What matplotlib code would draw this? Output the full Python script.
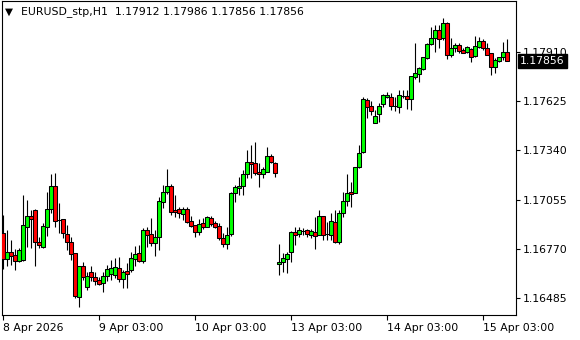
import numpy as np
import matplotlib
matplotlib.use("Agg")
import matplotlib.pyplot as plt
import matplotlib.transforms as mtransforms

# EURUSD H1 candles, 8 Apr 03:00 .. 15 Apr 09:00
opens = [
    1.16861, 1.16711, 1.16751, 1.16734, 1.16700, 1.16706, 1.16896, 1.16959, 1.16994, 1.16809,
    1.16780, 1.16896, 1.17000, 1.17133, 1.16936, 1.16942, 1.16855, 1.16809, 1.16745, 1.16491,
    1.16671, 1.16549, 1.16636, 1.16607, 1.16590, 1.16572, 1.16613, 1.16625, 1.16619, 1.16659,
    1.16596, 1.16642, 1.16648, 1.16711, 1.16745, 1.16700, 1.16878, 1.16855, 1.16803, 1.16838,
    1.17040, 1.17098, 1.17133, 1.16994, 1.17000, 1.16971, 1.17000, 1.16930, 1.16907, 1.16867,
    1.16919, 1.16896, 1.16948, 1.16919, 1.16902, 1.16832, 1.16797, 1.16855, 1.17092, 1.17122,
    1.17133, 1.17203, 1.17272, 1.17266, 1.17214, 1.17203, 1.17214, 1.17307, 1.17266, 1.16682,
    1.16694, 1.16711, 1.16751, 1.16867, 1.16855, 1.16873, 1.16878, 1.16849, 1.16867, 1.16849,
    1.16959, 1.16855, 1.16849, 1.16925, 1.16809, 1.16977, 1.17046, 1.17098, 1.17092, 1.17243,
    1.17330, 1.17632, 1.17596, 1.17498, 1.17551, 1.17609, 1.17648, 1.17648, 1.17596, 1.17590,
    1.17654, 1.17654, 1.17637, 1.17765, 1.17782, 1.17811, 1.17875, 1.17956, 1.17991, 1.18037,
    1.17991, 1.18078, 1.17892, 1.17933, 1.17950, 1.17921, 1.17910, 1.17927, 1.17887, 1.17939,
    1.17974, 1.17933, 1.17904, 1.17823, 1.17858, 1.17881, 1.17912,
]
highs = [
    1.16965, 1.16878, 1.16820, 1.16768, 1.16774, 1.17081, 1.17052, 1.16994, 1.17000, 1.16838,
    1.16919, 1.17098, 1.17203, 1.17208, 1.17035, 1.16942, 1.16907, 1.16838, 1.16745, 1.16671,
    1.16694, 1.16636, 1.16671, 1.16636, 1.16607, 1.16636, 1.16677, 1.16706, 1.16717, 1.16723,
    1.16648, 1.16688, 1.16751, 1.16786, 1.16792, 1.16890, 1.16896, 1.16948, 1.16878, 1.17069,
    1.17139, 1.17232, 1.17145, 1.17081, 1.17011, 1.17011, 1.17011, 1.16959, 1.16907, 1.16942,
    1.16948, 1.16959, 1.16959, 1.16930, 1.16919, 1.16861, 1.16896, 1.17098, 1.17139, 1.17185,
    1.17226, 1.17342, 1.17370, 1.17388, 1.17266, 1.17243, 1.17359, 1.17318, 1.17272, 1.16797,
    1.16745, 1.16751, 1.16873, 1.16896, 1.16896, 1.16890, 1.16884, 1.16884, 1.16954, 1.16994,
    1.16959, 1.16925, 1.16977, 1.16994, 1.16994, 1.17098, 1.17203, 1.17156, 1.17243, 1.17370,
    1.17648, 1.17643, 1.17626, 1.17573, 1.17615, 1.17666, 1.17677, 1.17672, 1.17648, 1.17689,
    1.17689, 1.17689, 1.17771, 1.17962, 1.17823, 1.17881, 1.17962, 1.18055, 1.18066, 1.18066,
    1.18107, 1.18084, 1.17991, 1.17962, 1.17962, 1.17933, 1.17945, 1.17933, 1.18003, 1.17997,
    1.17985, 1.17962, 1.17904, 1.17875, 1.17881, 1.17968, 1.17986,
]
lows = [
    1.16653, 1.16671, 1.16677, 1.16648, 1.16694, 1.16700, 1.16780, 1.16774, 1.16671, 1.16774,
    1.16774, 1.16844, 1.16977, 1.16896, 1.16861, 1.16832, 1.16763, 1.16706, 1.16486, 1.16433,
    1.16590, 1.16532, 1.16584, 1.16561, 1.16561, 1.16520, 1.16584, 1.16590, 1.16601, 1.16578,
    1.16543, 1.16543, 1.16636, 1.16671, 1.16694, 1.16688, 1.16780, 1.16786, 1.16729, 1.16763,
    1.17006, 1.17087, 1.16965, 1.16954, 1.16948, 1.16936, 1.16919, 1.16896, 1.16838, 1.16849,
    1.16884, 1.16896, 1.16902, 1.16890, 1.16820, 1.16780, 1.16768, 1.16844, 1.17040, 1.17081,
    1.17081, 1.17179, 1.17179, 1.17197, 1.17127, 1.17179, 1.17214, 1.17266, 1.17185, 1.16619,
    1.16636, 1.16630, 1.16694, 1.16792, 1.16838, 1.16849, 1.16838, 1.16832, 1.16768, 1.16849,
    1.16820, 1.16820, 1.16820, 1.16803, 1.16797, 1.16954, 1.17017, 1.17011, 1.17092, 1.17237,
    1.17324, 1.17527, 1.17545, 1.17498, 1.17504, 1.17590, 1.17643, 1.17573, 1.17568, 1.17557,
    1.17643, 1.17579, 1.17573, 1.17753, 1.17735, 1.17806, 1.17869, 1.17950, 1.17910, 1.17933,
    1.17979, 1.17869, 1.17881, 1.17910, 1.17904, 1.17904, 1.17904, 1.17852, 1.17881, 1.17933,
    1.17921, 1.17892, 1.17777, 1.17788, 1.17852, 1.17864, 1.17856,
]
closes = [
    1.16711, 1.16751, 1.16729, 1.16700, 1.16763, 1.16907, 1.16959, 1.16942, 1.16809, 1.16792,
    1.16902, 1.17000, 1.17133, 1.16930, 1.16936, 1.16861, 1.16809, 1.16740, 1.16497, 1.16671,
    1.16607, 1.16613, 1.16607, 1.16584, 1.16567, 1.16613, 1.16653, 1.16659, 1.16665, 1.16596,
    1.16636, 1.16625, 1.16717, 1.16740, 1.16700, 1.16878, 1.16849, 1.16803, 1.16838, 1.17046,
    1.17098, 1.17133, 1.16983, 1.16983, 1.16977, 1.17000, 1.16925, 1.16902, 1.16867, 1.16913,
    1.16896, 1.16954, 1.16913, 1.16896, 1.16832, 1.16797, 1.16849, 1.17092, 1.17127, 1.17133,
    1.17203, 1.17272, 1.17260, 1.17208, 1.17203, 1.17232, 1.17307, 1.17272, 1.17208, 1.16694,
    1.16717, 1.16740, 1.16867, 1.16849, 1.16878, 1.16873, 1.16855, 1.16873, 1.16844, 1.16959,
    1.16849, 1.16855, 1.16930, 1.16809, 1.16977, 1.17046, 1.17092, 1.17087, 1.17243, 1.17324,
    1.17637, 1.17590, 1.17568, 1.17538, 1.17596, 1.17660, 1.17660, 1.17596, 1.17596, 1.17660,
    1.17654, 1.17637, 1.17771, 1.17788, 1.17817, 1.17881, 1.17956, 1.17991, 1.18037, 1.17985,
    1.18078, 1.17892, 1.17933, 1.17950, 1.17916, 1.17904, 1.17939, 1.17881, 1.17945, 1.17974,
    1.17933, 1.17892, 1.17823, 1.17864, 1.17881, 1.17910, 1.17856,
]

price_ticks = [1.16485, 1.16770, 1.17055, 1.17340, 1.17625, 1.17910]
date_tick_bars = [0, 24, 48, 72, 96, 120]
date_labels = ["8 Apr 2026", "9 Apr 03:00", "10 Apr 03:00", "13 Apr 03:00",
               "14 Apr 03:00", "15 Apr 03:00"]
symbol = "EURUSD_stp,H1"

o = np.array(opens)
h = np.array(highs)
l = np.array(lows)
c = np.array(closes)
x = np.arange(len(o))

plt.rcParams["font.family"] = ["DejaVu Sans"]
fs = 7.8

fig = plt.figure(figsize=(5.8, 3.4), dpi=100)
ax = fig.add_axes([2 / 580, 25 / 340, 514 / 580, 314 / 340])

# wicks
ax.vlines(x, l, h, color="black", linewidth=0.8, zorder=2)

# bodies
colors = np.where(c > o, "#00ff00", np.where(c < o, "#ff0000", "black"))
ax.bar(x, np.abs(c - o), bottom=np.minimum(o, c), width=0.8,
       color=colors, edgecolor="black", linewidth=0.75, zorder=3)

ax.set_xlim(-0.25, 128.25)
ax.set_ylim(1.16387, 1.18205)

for s in ax.spines.values():
    s.set_linewidth(0.8)
    s.set_color("black")

ax.yaxis.tick_right()
ax.set_yticks(price_ticks)
ax.set_yticklabels([f"{p:.5f}" for p in price_ticks], fontsize=fs)
ax.tick_params(axis="y", direction="out", length=3, width=0.8, pad=2)

ax.set_xticks(date_tick_bars)
ax.set_xticklabels(date_labels, fontsize=fs, ha="left")
ax.tick_params(axis="x", direction="out", length=3.5, width=0.8, pad=2)

# header
ax.text(0.005, 0.965, "\u25bc", transform=ax.transAxes, fontsize=7.5,
        ha="left", va="center")
ax.text(0.037, 0.965, f"{symbol}  {opens[-1]:.5f} {highs[-1]:.5f} "
        f"{lows[-1]:.5f} {closes[-1]:.5f}",
        transform=ax.transAxes, fontsize=fs, ha="left", va="center")

# current price box (covers part of the top price label, as in the terminal)
trans = mtransforms.blended_transform_factory(ax.transAxes, ax.transData)
ax.text(1.008, closes[-1], f"{closes[-1]:.5f}", transform=trans,
        fontsize=fs, color="white", ha="left", va="center", zorder=10,
        clip_on=False,
        bbox=dict(boxstyle="square,pad=0.18", fc="black", ec="black"))

fig.savefig("out.png", dpi=100, facecolor="white")
